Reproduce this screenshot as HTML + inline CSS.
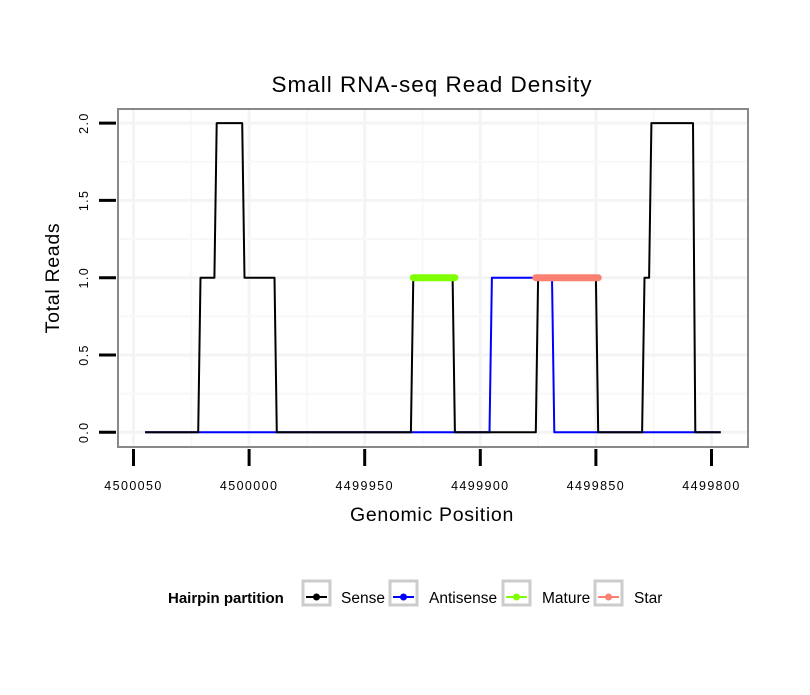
<!DOCTYPE html>
<html><head><meta charset="utf-8"><style>
body{margin:0;background:#fff;}
svg text{font-family:"Liberation Sans",sans-serif;}
</style></head><body>
<svg id="chart" width="810" height="690" xmlns="http://www.w3.org/2000/svg">
<rect width="810" height="690" fill="#fff"/>
<text x="432" y="92" font-size="22.5" letter-spacing="1" text-anchor="middle">Small RNA-seq Read Density</text>
<g id="grid"></g>
<g id="series"></g>
<rect x="118" y="109" width="630" height="338" fill="none" stroke="#888" stroke-width="2"/>
<g id="axes"></g>
<text x="432" y="521" font-size="19.5" letter-spacing="0.7" text-anchor="middle">Genomic Position</text>
<text transform="translate(59,278) rotate(-90)" font-size="19.5" letter-spacing="0.7" text-anchor="middle">Total Reads</text>
<g id="legend">
<text x="168" y="603" font-size="15" font-weight="bold">Hairpin partition</text>
</g>
</svg>
<script>
const xTicks=[4500050,4500000,4499950,4499900,4499850,4499800];
const yTicks=[0,0.5,1,1.5,2];
const yTickLabels=["0.0","0.5","1.0","1.5","2.0"];
const sensePos=[4500045,4500022,4500021,4500015,4500014,4500003,4500002,4499989,4499988,4499930,4499929,4499912,4499911,4499876,4499875,4499850,4499849,4499830,4499829,4499827,4499826,4499808,4499807,4499796];
const senseVal=[0,0,1,1,2,2,1,1,0,0,1,1,0,0,1,1,0,0,1,1,2,2,0,0];
const antiPos=[4500045,4499896,4499895,4499869,4499868,4499796];
const antiVal=[0,0,1,1,0,0];
const maturePos=[4499929,4499911];
const matureVal=[1,1];
const starPos=[4499876,4499849];
const starVal=[1,1];
const legendLabels=["Sense","Antisense","Mature","Star"];
const legendColors=["#000000","#0000ff","#7fff00","#fa8072"];

const NS="http://www.w3.org/2000/svg";
function X(v){return 133.5+(4500050-v)*2.312;}
function Y(v){return 432.3-v*154.6;}
function mk(tag,attrs,parent){const e=document.createElementNS(NS,tag);for(const k in attrs)e.setAttribute(k,attrs[k]);parent.appendChild(e);return e;}
const grid=document.getElementById('grid'),ser=document.getElementById('series'),axes=document.getElementById('axes'),leg=document.getElementById('legend');
for(let i=0;i<xTicks.length;i++){
  const l=mk('line',{x1:X(xTicks[i]),x2:X(xTicks[i]),y1:110,y2:446,stroke:'#f4f4f4','stroke-width':3},grid);
  
  
  if(i<xTicks.length-1){const m=(xTicks[i]+xTicks[i+1])/2;
    const l2=mk('line',{x1:X(m),x2:X(m),y1:110,y2:446,stroke:'#f8f8f8','stroke-width':2},grid);
    
    }
}
for(let i=0;i<yTicks.length;i++){
  const l=mk('line',{x1:119,x2:747,y1:Y(yTicks[i]),y2:Y(yTicks[i]),stroke:'#f4f4f4','stroke-width':3},grid);
  
  
  if(i<yTicks.length-1){const m=(yTicks[i]+yTicks[i+1])/2;
    const l2=mk('line',{x1:119,x2:747,y1:Y(m),y2:Y(m),stroke:'#f8f8f8','stroke-width':2},grid);
    
    }
}
function path(pos,val,color,w,name,cap){
  const d=pos.map((p,i)=>(i?'L':'M')+X(p).toFixed(1)+','+Y(val[i]).toFixed(1)).join('');
  const e=mk('path',{d:d,fill:'none',stroke:color,'stroke-width':w,'stroke-linejoin':'round','stroke-linecap':cap||'butt'},ser);
  
  
}
path(antiPos,antiVal,'#0000ff',2,'antisense-line');
path(sensePos,senseVal,'#000000',2,'sense-line');
path(maturePos,matureVal,'#7fff00',7,'mature-line','round');
path(starPos,starVal,'#fa8072',7,'star-line','round');
xTicks.forEach(t=>{
  const l=mk('line',{x1:X(t),x2:X(t),y1:449,y2:466,stroke:'#000','stroke-width':3},axes);
  
  
  const tx=mk('text',{x:X(t),y:490,'font-size':12.5,'letter-spacing':1.4,'text-anchor':'middle'},axes);
  tx.textContent=t;
  
  
});
yTicks.forEach((t,i)=>{
  const l=mk('line',{x1:99,x2:116,y1:Y(t),y2:Y(t),stroke:'#000','stroke-width':3},axes);
  
  
  const tx=mk('text',{transform:'translate(88,'+Y(t)+') rotate(-90)','font-size':12.5,'letter-spacing':1.4,'text-anchor':'middle'},axes);
  tx.textContent=yTickLabels[i];
  
  
});
const boxX=[303,390,503,595],txtX=[341,429,542,634];
legendLabels.forEach((lab,i)=>{
  const b=mk('rect',{x:boxX[i],y:581,width:27,height:24,fill:'#fff',stroke:'#ccc','stroke-width':3},leg);
  
  
  const l=mk('line',{x1:boxX[i]+3,x2:boxX[i]+24,y1:597,y2:597,stroke:legendColors[i],'stroke-width':2},leg);
  
  
  const c=mk('circle',{cx:boxX[i]+13.5,cy:597,r:3.5,fill:legendColors[i]},leg);
  
  
  const t=mk('text',{x:txtX[i],y:603,'font-size':15.5},leg);
  t.textContent=lab;
  
  
});
</script>
</body></html>
